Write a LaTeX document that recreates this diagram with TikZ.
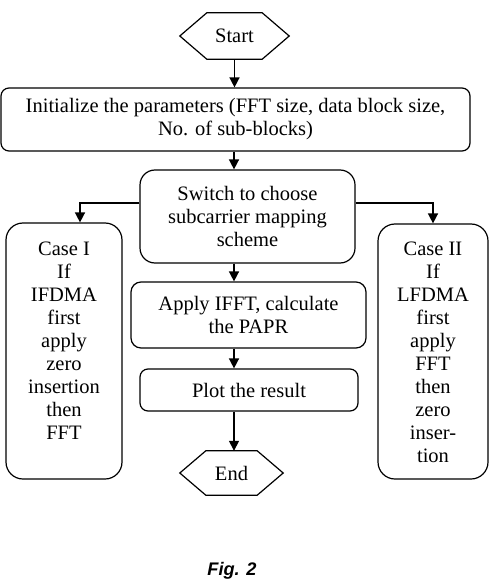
\documentclass[tikz,border=0pt]{standalone}
\usepackage{fontspec}
\setmainfont{Liberation Serif}
\setsansfont{Liberation Sans}
\usetikzlibrary{arrows.meta}
\begin{document}
\begin{tikzpicture}[x=1pt,y=-1pt,
  box/.style={draw, line width=1.2pt, rounded corners=#1, inner sep=0pt,
    font=\fontsize{20.5}{23}\selectfont, align=center},
  box/.default=10pt,
  hexa/.style={draw=none, inner sep=0pt, font=\fontsize{20.5}{23}\selectfont},
  hexline/.style={line width=1.2pt, line join=miter},
  txt/.style={font=\fontsize{20.5}{23}\selectfont, align=center, inner sep=0pt},
  arr/.style={-{Triangle[length=10pt,width=10pt]}, line width=1.5pt},
]
\useasboundingbox (0,0) rectangle (490,580);

% nodes
\node[hexa, minimum width=109pt, minimum height=46pt] (start) at (234.5,36) {Start};
\draw[hexline] (start.west) -- ([xshift=27pt]start.north west) -- ([xshift=-27pt]start.north east)
  -- (start.east) -- ([xshift=-27pt]start.south east) -- ([xshift=27pt]start.south west) -- cycle;

\node[box=8pt, minimum width=469pt, minimum height=63pt] (init) at (235.5,119.5)
  {Initialize the parameters (FFT size, data block size,\\No. of sub-blocks)};

\node[box=15pt, minimum width=215pt, minimum height=93pt] (switch) at (247.5,216.5)
  {Switch to choose\\subcarrier mapping\\scheme};

\node[box=17pt, minimum width=116pt, minimum height=256pt] (caseI) at (64,351) {};
\node[txt, anchor=north] (caseItext) at (64,241.5)
  {Case I\\If\\IFDMA\\first\\apply\\zero\\insertion\\then\\FFT};

\node[box=17pt, minimum width=110pt, minimum height=255pt] (caseII) at (433,351.5) {};
\node[txt, anchor=north] (caseIItext) at (433,241.5)
  {Case II\\If\\LFDMA\\first\\apply\\FFT\\then\\zero\\inser-\\tion};

\node[box=10pt, minimum width=235pt, minimum height=66pt] (apply) at (248.5,315)
  {Apply IFFT, calculate\\the PAPR};

\node[box=8pt, minimum width=218pt, minimum height=42pt] (plot) at (249,390)
  {Plot the result};

\node[hexa, minimum width=103pt, minimum height=44pt] (end) at (231.5,473) {End};
\draw[hexline] (end.west) -- ([xshift=26pt]end.north west) -- ([xshift=-26pt]end.north east)
  -- (end.east) -- ([xshift=-26pt]end.south east) -- ([xshift=26pt]end.south west) -- cycle;

\node[font=\sffamily\bfseries\itshape\fontsize{18.2}{20}\selectfont, anchor=base, inner sep=0pt]
  (cap) at (232,575) {Fig. 2};

% connectors
\coordinate (ax) at (234,0);
\draw[arr] (start.south) -- (init.north -| start.south);
\draw[arr] (init.south -| ax) -- (switch.north -| ax);
\draw[arr] (switch.south -| ax) -- (apply.north -| ax);
\draw[arr] (apply.south -| ax) -- (plot.north -| ax);
\draw[arr] (plot.south -| ax) -- (end.north -| ax);
\draw[arr] ([yshift=13.5pt]switch.west) -| ([xshift=16pt]caseI.north);
\draw[arr] ([yshift=13.5pt]switch.east) -| (caseII.north);
\end{tikzpicture}
\end{document}
